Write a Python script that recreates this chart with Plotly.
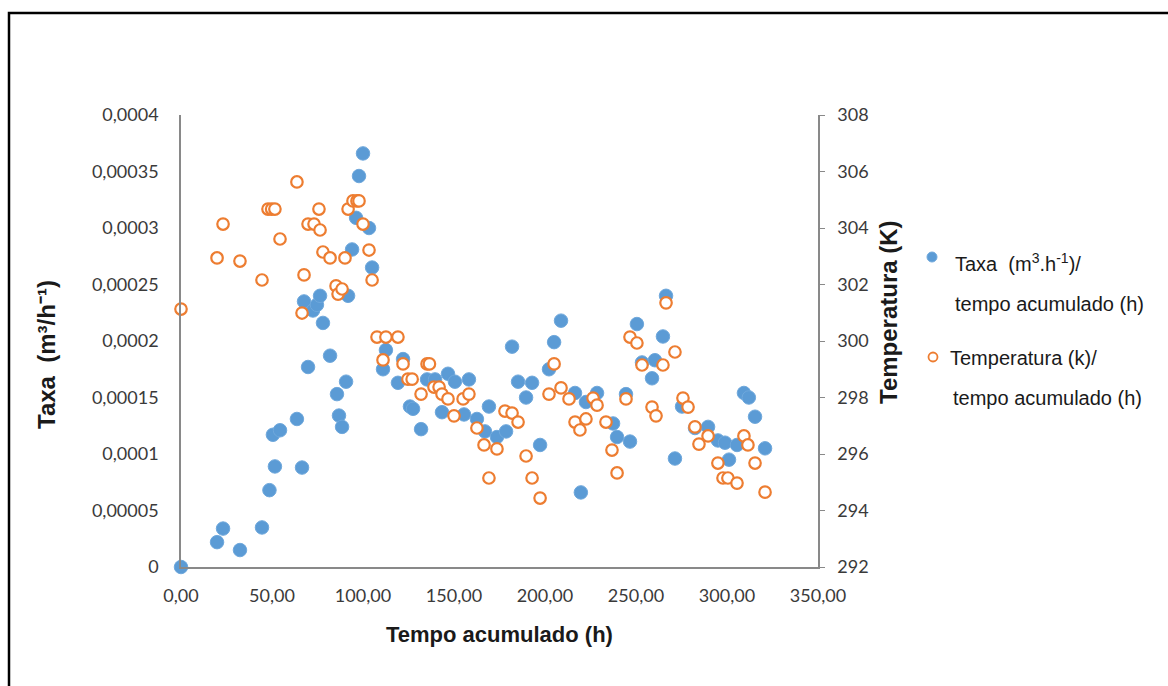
import plotly.graph_objects as go

# ---- data ----
taxa_x = [0, 19.8, 23.1, 32.4, 44.5, 48.6, 50.5, 51.6, 54.4, 63.7, 66.5, 67.6, 69.8, 72.5, 74.7,
          76.4, 78, 81.9, 85.7, 86.8, 88.5, 90.7, 91.8, 94, 96.2, 97.8, 100, 103.3, 105, 111,
          112.6, 119.2, 122, 125.8, 127.5, 131.9, 135.2, 139.6, 143.4, 146.7, 150.5, 155.5,
          158.2, 162.6, 167, 169.2, 173.6, 178.6, 181.9, 185.2, 189.6, 192.9, 197.3, 202.2,
          205, 208.8, 216.5, 219.7, 222.5, 228.6, 237.4, 239.6, 244.5, 246.7, 250.5, 253.3,
          258.8, 260.4, 264.8, 266.5, 271.4, 275.3, 282.4, 289.6, 295, 298.9, 301.1, 305.5,
          309.3, 312, 315.4, 320.9]
taxa_y = [0, 0.000022, 0.000034, 0.000015, 0.000035, 0.000068, 0.000117, 0.000089, 0.000121,
          0.000131, 0.000088, 0.000235, 0.000177, 0.000227, 0.000232, 0.00024, 0.000216,
          0.000187, 0.000153, 0.000134, 0.000124, 0.000164, 0.00024, 0.000281, 0.000309,
          0.000346, 0.000366, 0.0003, 0.000265, 0.000175, 0.000192, 0.000163, 0.000184,
          0.000142, 0.00014, 0.000122, 0.000166, 0.000166, 0.000137, 0.000171, 0.000164,
          0.000135, 0.000166, 0.000131, 0.00012, 0.000142, 0.000115, 0.00012, 0.000195,
          0.000164, 0.00015, 0.000163, 0.000108, 0.000175, 0.000199, 0.000218, 0.000154,
          0.000066, 0.000146, 0.000154, 0.000127, 0.000115, 0.000153, 0.000111, 0.000215,
          0.000181, 0.000167, 0.000183, 0.000204, 0.00024, 0.000096, 0.000142, 0.000123,
          0.000124, 0.000112, 0.00011, 0.000095, 0.000108, 0.000154, 0.00015, 0.000133,
          0.000105]

temp_x = [0, 19.8, 23.1, 32.4, 44.5, 47.8, 49.8, 51.6, 54.4, 63.7, 66.5, 67.6, 69.8, 73.1,
          75.8, 76.4, 78, 81.9, 85.2, 86.3, 88.5, 90.1, 91.8, 94.5, 96.7, 97.8, 100, 103.3,
          105, 107.7, 111, 112.6, 119.2, 122, 124.7, 127, 131.9, 135.2, 136.5, 139, 141.8,
          143.4, 146.7, 150, 155, 158.2, 162.6, 166.5, 169.2, 173.6, 178, 181.9, 185.2,
          189.6, 192.9, 197.3, 202.2, 205, 208.8, 213.2, 216.5, 219.2, 222.5, 226.4, 228.6,
          233.5, 236.8, 239.6, 244.5, 246.7, 250.5, 253.3, 258.8, 261, 264.8, 266.5, 271.4,
          275.8, 278.6, 282.4, 284.6, 289.6, 295, 297.8, 300.5, 305.5, 309.3, 311.5, 315.4,
          320.9]
temp_y = [301.13, 302.94, 304.14, 302.83, 302.16, 304.67, 304.67, 304.67, 303.61, 305.63,
          300.99, 302.34, 304.14, 304.14, 304.67, 303.93, 303.15, 302.94, 301.95, 301.66,
          301.84, 302.94, 304.67, 304.96, 304.96, 304.96, 304.14, 303.22, 302.16, 300.14,
          299.33, 300.14, 300.14, 299.19, 298.65, 298.65, 298.12, 299.19, 299.19, 298.37,
          298.37, 298.12, 297.95, 297.35, 297.95, 298.12, 296.92, 296.32, 295.15, 296.18,
          297.52, 297.45, 297.13, 295.93, 295.15, 294.44, 298.12, 299.19, 298.34, 297.95,
          297.13, 296.85, 297.24, 297.98, 297.73, 297.13, 296.14, 295.33, 297.95, 300.14,
          299.93, 299.15, 297.66, 297.35, 299.15, 301.35, 299.61, 297.98, 297.66, 296.96,
          296.35, 296.64, 295.68, 295.15, 295.15, 294.97, 296.64, 296.32, 295.68, 294.65]

x_ticks = [0, 50, 100, 150, 200, 250, 300, 350]
x_labels = ["0,00", "50,00", "100,00", "150,00", "200,00", "250,00", "300,00", "350,00"]
y1_ticks = [0, 0.00005, 0.0001, 0.00015, 0.0002, 0.00025, 0.0003, 0.00035, 0.0004]
y1_labels = ["0", "0,00005", "0,0001", "0,00015", "0,0002", "0,00025", "0,0003", "0,00035", "0,0004"]
y2_ticks = [292, 294, 296, 298, 300, 302, 304, 306, 308]

W, H = 1168, 686
L, R, T, B = 181, 350, 115, 119
PW, PH = W - L - R, H - T - B

def px(xp):
    return (xp - L) / PW

def py(yp):
    return (H - B - yp) / PH

tick_font = dict(family="Lato", size=18, color="#3a3a3a")
axis_col = "#898989"

fig = go.Figure()
fig.add_trace(go.Scatter(
    x=taxa_x, y=taxa_y, mode="markers", name="Taxa (m³.h⁻¹)/ tempo acumulado (h)",
    marker=dict(size=13.5, color="#5B9BD5", line=dict(color="#6FA8DC", width=1)),
    cliponaxis=False, yaxis="y"))
fig.add_trace(go.Scatter(
    x=temp_x, y=temp_y, mode="markers", name="Temperatura (k)/ tempo acumulado (h)",
    marker=dict(size=11.5, color="white", line=dict(color="#ED7D31", width=2.2)),
    cliponaxis=False, yaxis="y2"))

fig.update_layout(
    width=W, height=H, showlegend=False,
    margin=dict(l=L, r=R, t=T, b=B, autoexpand=False),
    paper_bgcolor="white", plot_bgcolor="white",
    xaxis=dict(range=[0, 350], tickvals=x_ticks, ticktext=x_labels, showgrid=False,
               zeroline=False, showline=True, linecolor=axis_col, linewidth=1.5,
               ticks="", tickfont=tick_font, ticklabelstandoff=12, automargin=False),
    yaxis=dict(range=[0, 0.0004], tickvals=y1_ticks, ticktext=y1_labels, showgrid=False,
               zeroline=False, showline=True, linecolor=axis_col, linewidth=1.5,
               ticks="", tickfont=tick_font, ticklabelstandoff=17, automargin=False),
    yaxis2=dict(range=[292, 308], tickvals=y2_ticks, overlaying="y", side="right",
                showgrid=False, zeroline=False, showline=True, linecolor=axis_col,
                linewidth=1.5, ticks="outside", ticklen=5, tickcolor=axis_col,
                tickfont=tick_font, ticklabelstandoff=9, automargin=False),
)

xtitle_font = dict(family="Liberation Sans", size=22, color="#1a1a1a")
ytitle_font = dict(family="Liberation Sans", size=24, color="#1a1a1a")
legend_font = dict(family="Liberation Sans", size=20, color="#1a1a1a")
annotations = [
    dict(text="<b>Tempo acumulado (h)</b>", x=0.5, y=py(634), xref="paper", yref="paper",
         showarrow=False, font=xtitle_font, xanchor="center", yanchor="middle"),
    dict(text="<b>Taxa  (m³/h⁻¹)</b>", x=px(46), y=py(355), xref="paper", yref="paper",
         showarrow=False, font=ytitle_font, textangle=-90, xanchor="center", yanchor="middle"),
    dict(text="<b>Temperatura (K)</b>", x=px(888), y=py(312), xref="paper", yref="paper",
         showarrow=False, font=ytitle_font, textangle=-90, xanchor="center", yanchor="middle"),
    dict(text="Taxa  (m<sup>3</sup>.h<sup>-1</sup>)/", x=px(953), y=py(262), xref="paper",
         yref="paper", showarrow=False, font=legend_font, xanchor="left", yanchor="middle"),
    dict(text="tempo acumulado (h)", x=px(953), y=py(304), xref="paper", yref="paper",
         showarrow=False, font=legend_font, xanchor="left", yanchor="middle"),
    dict(text="Temperatura (k)/", x=px(948), y=py(358), xref="paper", yref="paper",
         showarrow=False, font=legend_font, xanchor="left", yanchor="middle"),
    dict(text="tempo acumulado (h)", x=px(951), y=py(398), xref="paper", yref="paper",
         showarrow=False, font=legend_font, xanchor="left", yanchor="middle"),
]
fig.update_layout(annotations=annotations)

shapes = [
    # outer frame
    dict(type="rect", xref="paper", yref="paper", x0=px(9), x1=px(1180), y0=py(13), y1=py(700),
         line=dict(color="black", width=2.5), fillcolor="rgba(0,0,0,0)", layer="below"),
    # legend markers
    dict(type="circle", xref="paper", yref="paper", xsizemode="pixel", ysizemode="pixel",
         xanchor=px(932), yanchor=py(257), x0=-5, x1=5, y0=-5, y1=5,
         fillcolor="#5B9BD5", line=dict(color="#6FA8DC", width=1)),
    dict(type="circle", xref="paper", yref="paper", xsizemode="pixel", ysizemode="pixel",
         xanchor=px(933), yanchor=py(357), x0=-4.5, x1=4.5, y0=-4.5, y1=4.5,
         fillcolor="white", line=dict(color="#ED7D31", width=1.8)),
]
fig.update_layout(shapes=shapes)

fig.write_html("out.html")
